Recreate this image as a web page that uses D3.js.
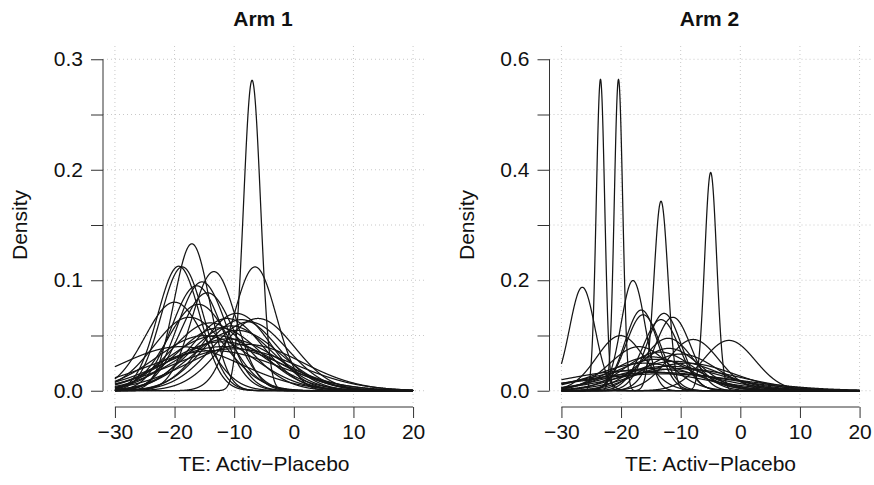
<!DOCTYPE html>
<html>
<head>
<meta charset="utf-8">
<script src="https://cdn.jsdelivr.net/npm/d3@7"></script>
<style>
  html, body { margin: 0; padding: 0; background: #fff; }
  svg { display: block; }
  text { font-family: "Liberation Sans", Arial, Helvetica, sans-serif; fill: #111; }
</style>
</head>
<body>
<svg id="chart" width="874" height="485"></svg>
<script>
// ---- Data ----
const panelTitles = ["Arm 1", "Arm 2"];
const xLabel = "TE: Activ\u2212Placebo";
const yLabel = "Density";
const xTicks = [-30, -20, -10, 0, 10, 20];

// Arm 1: normal density curves (mean, sd)
const arm1Means = [-7.0, -6.5, -17.1, -19.3, -18.7, -13.4, -15.4, -16.3, -20.0, -16.0,
                   -14.5, -9.6, -11.2, -8.8, -7.5, -6.0, -10.5, -12.5, -14.0, -9.5,
                   -13.0, -11.0, -15.0, -19.0, -12.0, -10.0, -13.5, -8.0, -17.5, -12.0];
const arm1Sds   = [1.42, 3.56, 3.0, 3.54, 3.56, 3.7, 4.05, 4.2, 4.98, 5.1,
                   4.5, 5.7, 6.1, 6.2, 6.4, 6.1, 6.8, 7.0, 6.5, 7.3,
                   8.0, 8.5, 8.0, 10.0, 10.0, 10.5, 11.0, 9.5, 6.0, 9.0];
const arm1YTicks = [0, 0.05, 0.1, 0.15, 0.2, 0.25, 0.3];
const arm1YLabels = [0, 0.1, 0.2, 0.3];

// Arm 2: normal density curves (mean, sd)
const arm2Means = [-23.45, -20.43, -13.3, -4.97, -26.5, -18.0, -16.6, -16.3, -12.8, -11.3,
                   -13.3, -20.1, -7.9, -1.9, -12.1, -12.0, -13.5, -15.0, -10.0, -14.0,
                   -11.0, -16.0, -12.0, -18.0, -14.0, -10.0, -15.0, -9.0, -17.0, -13.0];
const arm2Sds   = [0.708, 0.708, 1.163, 1.01, 2.13, 2.0, 2.73, 2.9, 2.85, 3.0,
                   3.1, 4.0, 4.3, 4.38, 4.2, 5.2, 5.7, 6.5, 6.0, 7.0,
                   7.5, 8.0, 9.0, 11.0, 12.0, 10.0, 10.0, 8.0, 5.0, 13.0];
const arm2YTicks = [0, 0.1, 0.2, 0.3, 0.4, 0.5, 0.6];
const arm2YLabels = [0, 0.2, 0.4, 0.6];

// ---- Drawing ----
const svg = d3.select("#chart");
const fontSize = 21;

function normPdf(x, m, s) {
  const z = (x - m) / s;
  return Math.exp(-0.5 * z * z) / (s * Math.sqrt(2 * Math.PI));
}

function drawPanel(cfg) {
  const { left, right, top, bottom, yMax, means, sds, yTicks, yLabels, title } = cfg;
  // R-style 4% extension of the data range
  const xPad = (20 - (-30)) * 0.04, yPad = yMax * 0.04;
  const x = d3.scaleLinear().domain([-30 - xPad, 20 + xPad]).range([left, right]);
  const y = d3.scaleLinear().domain([0 - yPad, yMax + yPad]).range([bottom, top]);
  const g = svg.append("g");

  // grid
  g.append("g").selectAll("line.v").data(xTicks).join("line")
    .attr("x1", d => x(d)).attr("x2", d => x(d))
    .attr("y1", top).attr("y2", bottom)
    .attr("stroke", "#c8c8c8").attr("stroke-width", 1).attr("stroke-dasharray", "1,3");
  g.append("g").selectAll("line.h").data(yTicks).join("line")
    .attr("x1", left).attr("x2", right)
    .attr("y1", d => y(d)).attr("y2", d => y(d))
    .attr("stroke", "#c8c8c8").attr("stroke-width", 1).attr("stroke-dasharray", "1,3");

  // curves
  const xs = d3.range(0, 2001).map(i => -30 + i * 50 / 2000);
  const line = d3.line().x(d => x(d[0])).y(d => y(d[1]));
  means.forEach((m, i) => {
    const s = sds[i];
    g.append("path")
      .attr("d", line(xs.map(v => [v, normPdf(v, m, s)])))
      .attr("fill", "none").attr("stroke", "#151515").attr("stroke-width", 1.25);
  });

  // x axis (R style, offset below region)
  const xAxisY = bottom + 3;
  const xa = g.append("g").attr("transform", `translate(0,${xAxisY})`)
    .call(d3.axisBottom(x).tickValues(xTicks).tickSize(11).tickPadding(6)
      .tickFormat(d => d < 0 ? "\u2212" + Math.abs(d) : String(d)).tickSizeOuter(0));
  xa.select(".domain").attr("d", `M${x(-30)},0H${x(20)}`).attr("stroke", "#333");
  xa.selectAll(".tick line").attr("stroke", "#333");
  xa.selectAll(".tick text").attr("font-size", fontSize).attr("fill", "#111")
    .attr("font-family", "Liberation Sans, Arial, sans-serif");

  // y axis
  const ya = g.append("g").attr("transform", `translate(${left},0)`)
    .call(d3.axisLeft(y).tickValues(yTicks).tickSize(12).tickPadding(8)
      .tickFormat(d => yLabels.some(v => Math.abs(v - d) < 1e-9) ? d3.format(".1f")(d) : "")
      .tickSizeOuter(0));
  ya.select(".domain").attr("d", `M0,${y(0)}V${y(yMax)}`).attr("stroke", "#333");
  ya.selectAll(".tick line").attr("stroke", "#333");
  ya.selectAll(".tick text").attr("font-size", fontSize).attr("fill", "#111")
    .attr("font-family", "Liberation Sans, Arial, sans-serif");

  // title
  svg.append("text").attr("x", (left + right) / 2 - 1).attr("y", 26)
    .attr("text-anchor", "middle").attr("font-weight", "bold").attr("font-size", 21)
    .text(title);
  // x label
  svg.append("text").attr("x", (left + right) / 2).attr("y", 471)
    .attr("text-anchor", "middle").attr("font-size", fontSize).text(xLabel);
  // y label
  const ylx = left - 76, yly = (top + bottom) / 2;
  svg.append("text").attr("transform", `translate(${ylx},${yly}) rotate(-90)`)
    .attr("text-anchor", "middle").attr("font-size", fontSize).text(yLabel);
}

drawPanel({ left: 103, right: 425, top: 46, bottom: 404, yMax: 0.3,
  means: arm1Means, sds: arm1Sds, yTicks: arm1YTicks, yLabels: arm1YLabels, title: panelTitles[0] });
drawPanel({ left: 549.5, right: 871.5, top: 46, bottom: 404, yMax: 0.6,
  means: arm2Means, sds: arm2Sds, yTicks: arm2YTicks, yLabels: arm2YLabels, title: panelTitles[1] });
</script>
</body>
</html>
